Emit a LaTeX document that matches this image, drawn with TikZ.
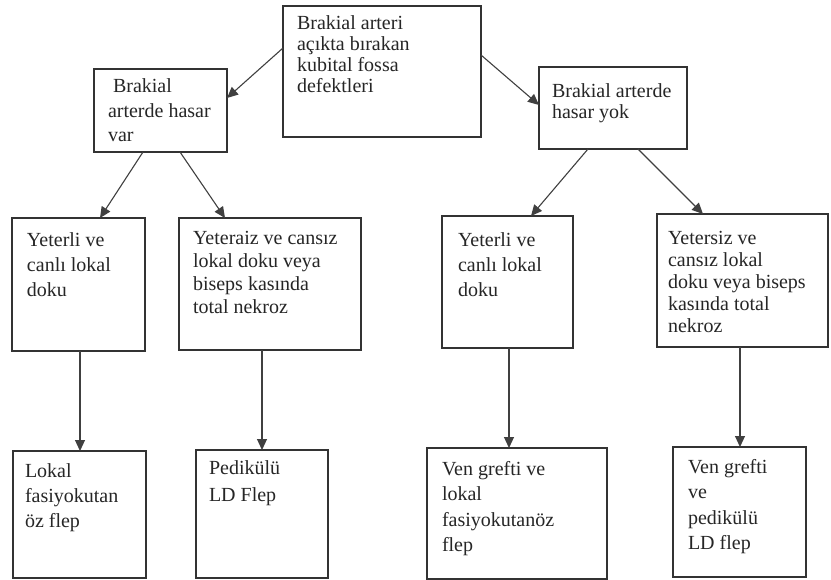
\documentclass[tikz,border=0pt]{standalone}
\usepackage{fontspec}
\setmainfont{Liberation Serif}
\newfontfamily\tfont{Liberation Serif}
\usetikzlibrary{arrows.meta}
\begin{document}
\begin{tikzpicture}[x=1pt,y=-1pt,
  box/.style={draw=black!80, line width=1.2pt, inner sep=0pt, outer sep=0pt, fill=white},
  txt/.style={anchor=north west, inner sep=0pt, outer sep=0pt, align=left, text=black!85},
  arr/.style={draw=black!75, line width=1.1pt, -{Triangle[length=11pt,width=10pt]}}
]
\useasboundingbox (0,0) rectangle (831,580);
\fill[white] (0,0) rectangle (831,580);
% boxes
\node[box, minimum width=198pt, minimum height=131pt] (top) at (382,71.5) {};
\node[box, minimum width=133pt, minimum height=83pt] (L2) at (160.5,110.5) {};
\node[box, minimum width=148pt, minimum height=82pt] (R2) at (613,108) {};
\node[box, minimum width=133pt, minimum height=133pt] (A) at (78.5,284.5) {};
\node[box, minimum width=182pt, minimum height=132pt] (B) at (270,284) {};
\node[box, minimum width=131pt, minimum height=132pt] (C) at (507.5,282) {};
\node[box, minimum width=171pt, minimum height=133pt] (D) at (742.5,280.5) {};
\node[box, minimum width=133pt, minimum height=127pt] (E) at (79.5,514.5) {};
\node[box, minimum width=132pt, minimum height=128pt] (F) at (262,514) {};
\node[box, minimum width=180pt, minimum height=131pt] (G) at (517,513.5) {};
\node[box, minimum width=133pt, minimum height=130pt] (H) at (739.5,512) {};
% texts
\node[txt, font=\tfont\fontsize{20}{21}\selectfont] (topt) at ([shift={(14pt,-10pt)}]top.north west)
  {Brakial arteri\\açıkta bırakan\\kubital fossa\\defektleri};
\node[txt, font=\tfont\fontsize{20}{24.5}\selectfont] (L2t) at ([shift={(14pt,-10pt)}]L2.north west)
  {\hspace*{5pt}Brakial\\arterde hasar\\var};
\node[txt, font=\tfont\fontsize{20}{21}\selectfont] (R2t) at ([shift={(13pt,-17pt)}]R2.north west)
  {Brakial arterde\\hasar yok};
\node[txt, font=\tfont\fontsize{20}{25}\selectfont] (At) at ([shift={(15pt,-15pt)}]A.north west)
  {Yeterli ve\\canlı lokal\\doku};
\node[txt, font=\tfont\fontsize{20}{23}\selectfont] (Bt) at ([shift={(14pt,-13pt)}]B.north west)
  {Yeteraiz ve cansız\\lokal doku veya\\biseps kasında\\total nekroz};
\node[txt, font=\tfont\fontsize{20}{25}\selectfont] (Ct) at ([shift={(16pt,-17pt)}]C.north west)
  {Yeterli ve\\canlı lokal\\doku};
\node[txt, font=\tfont\fontsize{20}{22}\selectfont] (Dt) at ([shift={(11pt,-17pt)}]D.north west)
  {Yetersiz ve\\cansız lokal\\doku veya biseps\\kasında total\\nekroz};
\node[txt, font=\tfont\fontsize{20}{25}\selectfont] (Et) at ([shift={(12pt,-13pt)}]E.north west)
  {Lokal\\fasiyokutan\\öz flep};
\node[txt, font=\tfont\fontsize{20}{27}\selectfont] (Ft) at ([shift={(13pt,-11pt)}]F.north west)
  {Pedikülü\\LD Flep};
\node[txt, font=\tfont\fontsize{20}{25.5}\selectfont] (Gt) at ([shift={(15pt,-13pt)}]G.north west)
  {Ven grefti ve\\lokal\\fasiyokutanöz\\flep};
\node[txt, font=\tfont\fontsize{20}{25.5}\selectfont] (Ht) at ([shift={(15pt,-12pt)}]H.north west)
  {Ven grefti\\ve\\pedikülü\\LD flep};
% connectors
\draw[arr] ([yshift=-42pt]top.north west) -- ([yshift=-29pt]L2.north east);
\draw[arr] ([yshift=-49pt]top.north east) -- ([yshift=-38pt]R2.north west);
\draw[arr] ([xshift=49pt]L2.south west) -- ([xshift=88pt]A.north west);
\draw[arr] ([xshift=86pt]L2.south west) -- ([xshift=46pt]B.north west);
\draw[arr] ([xshift=49pt]R2.south west) -- ([xshift=89pt]C.north west);
\draw[arr] ([xshift=99pt]R2.south west) -- ([xshift=46pt]D.north west);
\draw[arr] ([xshift=68pt]A.south west) -- ([xshift=67pt]E.north west);
\draw[arr] ([xshift=83pt]B.south west) -- ([xshift=66pt]F.north west);
\draw[arr] ([xshift=67pt]C.south west) -- ([xshift=82pt]G.north west);
\draw[arr] ([xshift=83pt]D.south west) -- ([xshift=67pt]H.north west);
\end{tikzpicture}
\end{document}
